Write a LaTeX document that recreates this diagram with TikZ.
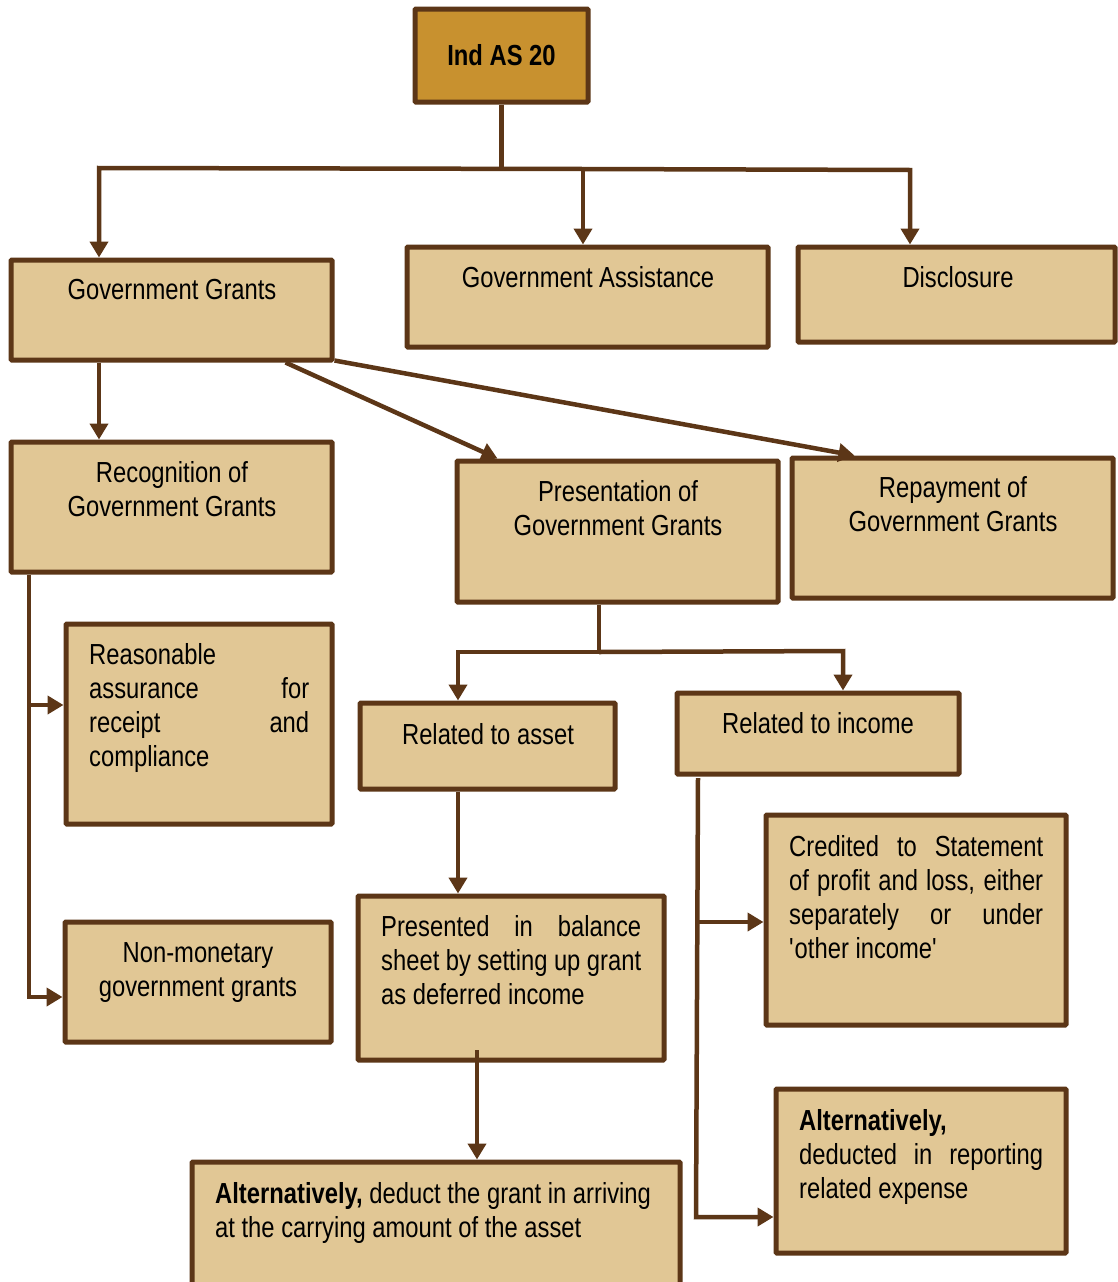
\documentclass[tikz,border=0pt]{standalone}
\usepackage{fontspec}
\setmainfont{Liberation Sans}[FakeStretch=0.82]
\usetikzlibrary{arrows.meta}
\definecolor{boxfill}{HTML}{E1C795}
\definecolor{boxline}{HTML}{5C3617}
\definecolor{topfill}{HTML}{C8912F}
\begin{document}
\begin{tikzpicture}[x=1pt,y=-1pt,
 box/.style={draw=boxline, line width=5pt, fill=boxfill, inner sep=0pt, rounded corners=1pt},
 conn/.style={draw=boxline, line width=4.5pt},
 arr/.style={conn, -{Triangle[length=16pt,width=18pt]}},
 txt/.style={inner sep=0pt, font=\fontsize{29}{34}\selectfont, anchor=north},
 jtxt/.style={txt, anchor=north west, align=justify},
]
\useasboundingbox (0,0) rectangle (1118,1282);
\fill[white] (0,0) rectangle (1118,1282);
\clip (0,0) rectangle (1118,1282);
% boxes
\node[box, fill=topfill, minimum width=173pt, minimum height=93pt] (top) at (501.5,55.5) {};
\node[box, minimum width=321pt, minimum height=100pt] (gg) at (171.5,310) {};
\node[box, minimum width=361pt, minimum height=100pt] (ga) at (587.5,297) {};
\node[box, minimum width=317pt, minimum height=95pt] (disc) at (956.5,294.5) {};
\node[box, minimum width=321pt, minimum height=130pt] (rec) at (171.5,507) {};
\node[box, minimum width=321pt, minimum height=141pt] (pres) at (617.5,531.5) {};
\node[box, minimum width=321pt, minimum height=140pt] (rep) at (952.5,528) {};
\node[box, minimum width=266pt, minimum height=200pt] (reas) at (199,724) {};
\node[box, minimum width=266pt, minimum height=120pt] (nonm) at (198,982) {};
\node[box, minimum width=255pt, minimum height=86pt] (rasset) at (487.5,746) {};
\node[box, minimum width=282pt, minimum height=81pt] (rincome) at (818,733.5) {};
\node[box, minimum width=306pt, minimum height=164pt] (presented) at (511,978) {};
\node[box, minimum width=488pt, minimum height=138pt] (alt1) at (436,1231) {};
\node[box, minimum width=300pt, minimum height=210pt] (cred) at (916,920) {};
\node[box, minimum width=290pt, minimum height=164pt] (alt2) at (921,1171) {};
% texts
\node[txt, anchor=center] (ttop) at (top.center) {\bfseries Ind AS 20};
\node[txt] (tgg) at (172,279) {Government Grants};
\node[txt] (tga) at (588,266) {Government Assistance};
\node[txt] (tdisc) at (958,266) {Disclosure};
\node[txt, align=center] (trec) at (172,461) {Recognition of\\Government Grants};
\node[txt, align=center] (tpres) at (618,480) {Presentation of\\Government Grants};
\node[txt, align=center] (trep) at (953,476) {Repayment of\\Government Grants};
\node[jtxt, text width=220pt] (treas) at (89,643) {Reasonable\linebreak assurance for\linebreak receipt and\linebreak compliance};
\node[txt, align=center] (tnonm) at (198,942) {Non-monetary\\government grants};
\node[txt] (trasset) at (488,723) {Related to asset};
\node[txt] (trincome) at (818,712) {Related to income};
\node[jtxt, text width=260pt] (tpresented) at (381,915) {Presented in balance\linebreak sheet by setting up grant\linebreak as deferred income};
\node[txt, anchor=north west, align=left] (talt1) at (215,1182) {\textbf{Alternatively,} deduct the grant in arriving\\at the carrying amount of the asset};
\node[jtxt, text width=254pt] (tcred) at (789,835) {Credited to Statement\linebreak of profit and loss, either\linebreak separately or under\linebreak \textquotesingle other income\textquotesingle};
\node[jtxt, text width=244pt] (talt2) at (799,1109) {\textbf{Alternatively,}\\deducted in reporting\linebreak related expense};
% connectors
\coordinate (h1) at (99,168);
\coordinate (hm) at (583,169);
\coordinate (h2) at (910,170);
\draw[conn] (top.south) -- (top.south |- hm);
\draw[arr] (hm) -- (h1) -- (h1 |- gg.north);
\draw[arr] (hm) -- (h2) -- (h2 |- disc.north);
\draw[arr] (hm) -- (hm |- ga.north);
\draw[arr] (99,0 |- gg.south) -- (99,0 |- rec.north);
\draw[arr] ([xshift=-49pt]gg.south east) -- ([xshift=43pt]pres.north west);
\draw[arr] ([yshift=2pt]gg.south east) -- ([xshift=65pt]rep.north west);
\coordinate (lb) at (29,997);
\draw[arr] (29,0 |- rec.south) -- (lb) -- (nonm.west |- lb);
\coordinate (lr) at (29,705);
\draw[arr] (lr) -- (reas.west |- lr);
\coordinate (pj) at (599,652);
\coordinate (pl) at (458,652);
\coordinate (pr) at (843,651);
\draw[conn] (599,0 |- pres.south) -- (pj);
\draw[arr] (pj) -- (pl) -- (pl |- rasset.north);
\draw[arr] (pj) -- (pr) -- (pr |- rincome.north);
\draw[arr] (458,0 |- rasset.south) -- (458,0 |- presented.north);
\draw[arr] (477,1050) -- (477,0 |- alt1.north);
\coordinate (ri) at (698,778);
\coordinate (rb) at (696,1217);
\coordinate (rc) at (697,922);
\draw[arr] (ri) -- (rb) -- (alt2.west |- rb);
\draw[arr] (rc) -- (cred.west |- rc);
\end{tikzpicture}
\end{document}
